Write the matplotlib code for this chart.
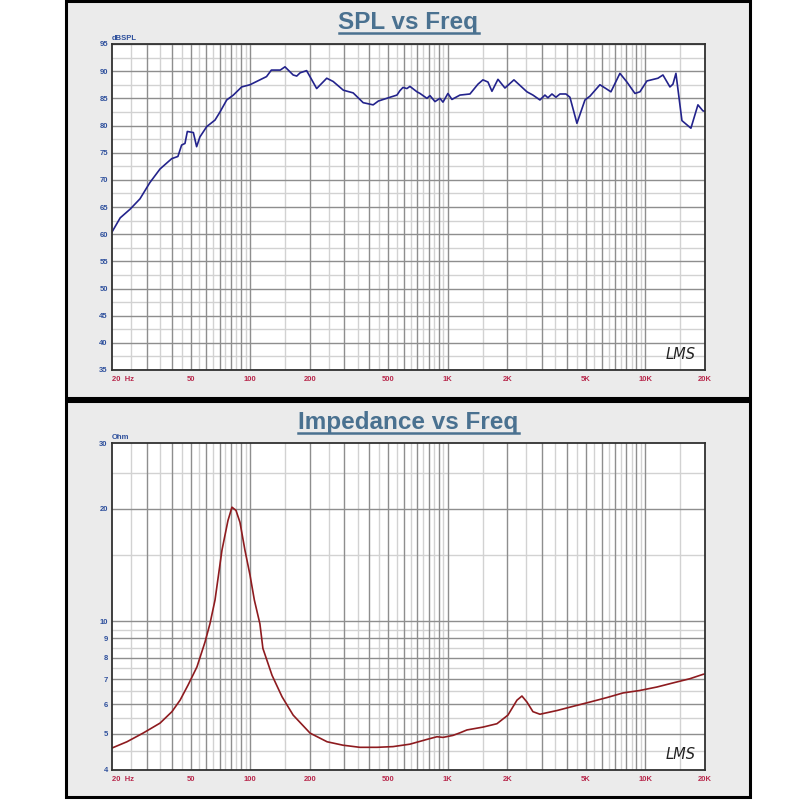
import matplotlib
matplotlib.use("Agg")
import matplotlib.pyplot as plt
from matplotlib.patches import Rectangle
from matplotlib.lines import Line2D
from matplotlib.ticker import NullLocator, FixedLocator, FixedFormatter

# ---------------- data ----------------
spl_freq = [20, 22.0, 24.7, 27.7, 31.1, 35.0, 40.1, 43.1, 45.0, 46.8, 48.1, 51.6, 53.6, 55.7,
            60.3, 66.4, 70.4, 76.1, 82.2, 90.6, 99.8, 112, 121, 128, 142, 150, 165, 172, 179,
            193, 217, 244, 263, 296, 332, 373, 419, 445, 510, 553, 572, 593, 621, 643, 698,
            723, 784, 812, 861, 912, 945, 1001, 1049, 1152, 1294, 1420, 1505, 1596, 1672,
            1793, 1945, 2160, 2513, 2695, 2924, 3099, 3209, 3363, 3523, 3691, 3958, 4147,
            4499, 4940, 5236, 5881, 6306, 6684, 7423, 8054, 8842, 9372, 10167, 11560, 12252,
            13292, 13765, 14255, 15286, 16974, 18417, 19517, 20000]
spl_db = [60.4, 63.0, 64.6, 66.5, 69.5, 72.0, 73.9, 74.3, 76.4, 76.7, 78.9, 78.7, 76.1, 77.9,
          79.8, 81.0, 82.5, 84.7, 85.6, 87.1, 87.5, 88.4, 89.0, 90.2, 90.2, 90.8, 89.3, 89.1, 89.7,
          90.1, 86.8, 88.7, 88.1, 86.5, 86.0, 84.2, 83.8, 84.5, 85.2, 85.6, 86.4, 87.0, 86.8, 87.2,
          86.2, 85.9, 85.0, 85.5, 84.4, 85.0, 84.3, 85.9, 84.8, 85.6, 85.8, 87.6, 88.4, 88.0, 86.3,
          88.5, 86.9, 88.4, 86.2, 85.6, 84.7, 85.6, 85.1, 85.8, 85.2, 85.8, 85.8, 85.2,
          80.4, 84.7, 85.4, 87.5, 86.8, 86.2, 89.6, 88.0, 85.9, 86.2, 88.2, 88.7, 89.3,
          87.1, 87.6, 89.6, 80.9, 79.5, 83.8, 82.7, 82.6]

imp_freq = [20, 23.8, 28.7, 35.0, 40.2, 44.2, 48.5, 53.8, 59.1, 62.6, 66.4, 72.0, 77.2, 80.9,
            84.8, 88.8, 94.1, 99.8, 105, 112, 116, 129, 145, 165, 201, 245, 295, 359, 438, 528,
            643, 784, 881, 945, 1061, 1152, 1250, 1505, 1772, 2014, 2237, 2371, 2513, 2695,
            2924, 3564, 4294, 5236, 6380, 7687, 9372, 11426, 13765, 16777, 19517, 20000]
imp_ohm = [4.58, 4.76, 5.02, 5.34, 5.73, 6.15, 6.75, 7.55, 8.80, 9.85, 11.4, 15.5, 18.6, 20.2,
           19.8, 18.4, 15.5, 13.3, 11.4, 9.85, 8.46, 7.17, 6.28, 5.61, 5.02, 4.76, 4.66, 4.60, 4.60, 4.62,
           4.69, 4.83, 4.91, 4.89, 4.95, 5.03, 5.12, 5.21, 5.32, 5.61, 6.15, 6.31, 6.08, 5.73,
           5.64, 5.77, 5.92, 6.08, 6.25, 6.43, 6.53, 6.67, 6.84, 7.02, 7.21, 7.23]

x_ticks = [20, 50, 100, 200, 500, 1000, 2000, 5000, 10000, 20000]
x_labels = ["20  Hz", "50", "100", "200", "500", "1K", "2K", "5K", "10K", "20K"]
spl_ticks = [35, 40, 45, 50, 55, 60, 65, 70, 75, 80, 85, 90, 95]
imp_ticks = [4, 5, 6, 7, 8, 9, 10, 20, 30]
imp_labels = ["4", "5", "6", "7", "8", "9", "10", "20", "30"]

# ---------------- style ----------------
W = H = 800
BG = "#ebebeb"
TITLE_C = "#4a7190"
YLAB_C = "#2d4f9c"
XLAB_C = "#b8284c"
DARK_G = "#8e8e8e"
LIGHT_G = "#d2d2d2"
FONT = "Liberation Sans"

fig = plt.figure(figsize=(8, 8), dpi=100, facecolor="white")

def fx(px):
    return px / W

def fy(py):
    return 1 - py / H

# panel frames
for (y0, y1) in [(1, 398), (401, 797)]:
    fig.patches.append(Rectangle((fx(66), fy(y1)), fx(750 - 66), (y1 - y0) / H,
                                 transform=fig.transFigure, facecolor=BG,
                                 edgecolor="black", linewidth=2.2, zorder=-5))

def grid_lines(ax, log_y):
    dark_x, light_x = [], []
    for d in [10, 100, 1000, 10000]:
        for k in range(1, 10):
            f = k * d
            if 20 < f < 20000:
                dark_x.append(f)
            fh = (k + 0.5) * d
            if 20 < fh < 20000:
                light_x.append(fh)
    for f in light_x:
        ax.axvline(f, color=LIGHT_G, lw=1.0, zorder=1)
    for f in dark_x:
        ax.axvline(f, color=DARK_G, lw=1.0, zorder=2)
    if not log_y:
        for v in range(35, 96, 5):
            ax.axhline(v, color=DARK_G, lw=1.0, zorder=2)
            if v + 2.5 < 95:
                ax.axhline(v + 2.5, color=LIGHT_G, lw=1.0, zorder=1)
    else:
        darks = [5, 6, 7, 8, 9, 10, 20]
        lights = [4.5, 5.5, 6.5, 7.5, 8.5, 9.5, 15, 25]
        for v in lights:
            ax.axhline(v, color=LIGHT_G, lw=1.0, zorder=1)
        for v in darks:
            ax.axhline(v, color=DARK_G, lw=1.0, zorder=2)


def setup(ax, yticks, ylabels, unit):
    ax.set_facecolor("white")
    ax.set_xscale("log")
    ax.set_xlim(20, 20000)
    ax.xaxis.set_major_locator(FixedLocator(x_ticks))
    ax.xaxis.set_major_formatter(FixedFormatter(x_labels))
    ax.xaxis.set_minor_locator(NullLocator())
    ax.yaxis.set_major_locator(FixedLocator(yticks))
    ax.yaxis.set_major_formatter(FixedFormatter(ylabels))
    ax.yaxis.set_minor_locator(NullLocator())
    ax.tick_params(axis="x", length=0, pad=4.5, labelsize=5.5, labelcolor=XLAB_C)
    ax.tick_params(axis="y", length=0, pad=3, labelsize=5.5, labelcolor=YLAB_C)
    for lab in ax.get_xticklabels() + ax.get_yticklabels():
        lab.set_fontweight("bold")
        lab.set_fontfamily(FONT)
    ax.get_xticklabels()[0].set_horizontalalignment("left")
    for s in ax.spines.values():
        s.set_color("#303030")
        s.set_linewidth(1.3)
        s.set_zorder(5)
    ax.text(0.0, 1.006, unit, transform=ax.transAxes, ha="left", va="bottom",
            fontsize=5.5, fontweight="bold", color=YLAB_C, family=FONT)
    ax.text(0.985, 0.025, "LMS", transform=ax.transAxes, ha="right", va="bottom",
            fontsize=10.5, fontstyle="italic", color="#222222", family="DejaVu Sans",
            zorder=6)

# top: SPL
ax1 = fig.add_axes([fx(112), fy(370), fx(705 - 112), (370 - 44) / H])
ax1.set_ylim(35, 95)
grid_lines(ax1, False)
setup(ax1, spl_ticks, [str(v) for v in spl_ticks], "dBSPL")
ax1.plot(spl_freq, spl_db, color="#23238c", lw=1.2, zorder=4)

# bottom: impedance
ax2 = fig.add_axes([fx(112), fy(770), fx(705 - 112), (770 - 443) / H])
ax2.set_yscale("log")
ax2.set_ylim(4, 30)
grid_lines(ax2, True)
setup(ax2, imp_ticks, imp_labels, "Ohm")
ax2.plot(imp_freq, imp_ohm, color="#8e1b1f", lw=1.2, zorder=4)

# titles with underline
titles = []
titles.append(fig.text(fx(408.5), fy(29.5), "SPL vs Freq", ha="center", va="baseline",
                       fontsize=17.5, fontweight="bold", color=TITLE_C, family=FONT))
titles.append(fig.text(fx(408.5), fy(429.5), "Impedance vs Freq", ha="center", va="baseline",
                       fontsize=17.5, fontweight="bold", color=TITLE_C, family=FONT))
fig.canvas.draw()
r = fig.canvas.get_renderer()
for t, base in zip(titles, [29.5, 429.5]):
    bb = t.get_window_extent(r)
    yline = fy(base + 3.5)
    fig.lines.append(Line2D([bb.x0 / W, bb.x1 / W], [yline, yline],
                            transform=fig.transFigure, color=TITLE_C, lw=1.8))

fig.savefig("out.png", dpi=100, facecolor="white")
